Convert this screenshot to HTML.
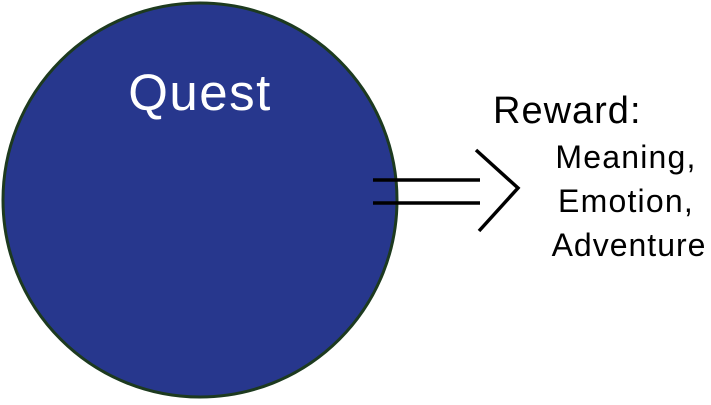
<!DOCTYPE html>
<html><head><style>
html,body{margin:0;padding:0;background:#fff;}
svg text{font-family:"Liberation Sans",sans-serif;}
</style></head><body>
<svg width="711" height="400" viewBox="0 0 711 400" xmlns="http://www.w3.org/2000/svg">
<circle cx="200" cy="200" r="197" fill="#27378d" stroke="#1d3a1f" stroke-width="3"/>
<text x="200" y="110" font-size="51" fill="#fff" text-anchor="middle" letter-spacing="1.5">Quest</text>
<line x1="373" y1="180" x2="480" y2="180" stroke="#000" stroke-width="3.5"/>
<line x1="373" y1="203" x2="480" y2="203" stroke="#000" stroke-width="3.5"/>
<polyline points="476,150 518,188 479,231" fill="none" stroke="#000" stroke-width="3.5"/>
<text x="493" y="123" font-size="38" fill="#000" letter-spacing="1">Reward:</text>
<text x="626" y="168" font-size="32" fill="#000" text-anchor="middle" letter-spacing="1.2">Meaning,</text>
<text x="626" y="212" font-size="32" fill="#000" text-anchor="middle" letter-spacing="1.2">Emotion,</text>
<text x="629" y="256" font-size="32" fill="#000" text-anchor="middle" letter-spacing="1">Adventure</text>
</svg>
</body></html>
